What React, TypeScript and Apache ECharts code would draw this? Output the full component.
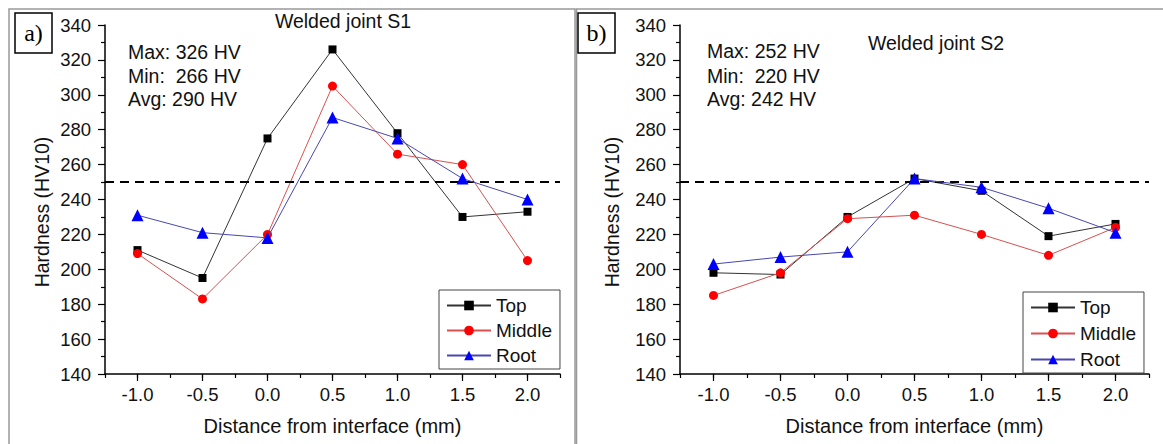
import React, { useEffect, useRef } from "react";
import * as echarts from "echarts";

const distances = [-1.0, -0.5, 0.0, 0.5, 1.0, 1.5, 2.0];
const s1Top = [211, 195, 275, 326, 278, 230, 233];
const s1Middle = [209, 183, 220, 305, 266, 260, 205];
const s1Root = [231, 221, 218, 287, 275, 252, 240];
const s2Top = [198, 197, 230, 252, 245, 219, 226];
const s2Middle = [185, 198, 229, 231, 220, 208, 224];
const s2Root = [203, 207, 210, 252, 247, 235, 221];
const seriesNames = ["Top", "Middle", "Root"];
const titles = ["Welded joint S1", "Welded joint S2"];
const panelLabels = ["a)", "b)"];
const stats1 = ["Max: 326 HV", "Min:  266 HV", "Avg: 290 HV"];
const stats2 = ["Max: 252 HV", "Min:  220 HV", "Avg: 242 HV"];
const yAxisTitle = "Hardness (HV10)";
const xAxisTitle = "Distance from interface (mm)";
const limitValue = 250;

const FONT = "'Liberation Sans', Arial, sans-serif";
const SERIF = "'Liberation Serif', 'Times New Roman', serif";
const TXT = "#111";
const FS = 19;
const TICK_FS = 18.5;

export default function App() {
  const ref = useRef<HTMLDivElement>(null);
  useEffect(() => {
    if (!ref.current) return;
    const chart = echarts.init(ref.current, undefined, { renderer: "svg" });

    const grids = [
      { left: 105, top: 25, width: 455, height: 349 },
      { left: 680, top: 25, width: 469, height: 349 },
      { left: 137.5, top: 25, width: 390, height: 349 },
      { left: 713.5, top: 25, width: 402, height: 349 },
    ];

    const yAxisMain = (gi: number) => ({
      type: "value",
      gridIndex: gi,
      min: 140,
      max: 340,
      interval: 20,
      axisLine: { show: true, onZero: false, lineStyle: { color: "#000", width: 1.5 } },
      axisTick: { show: true, length: 7, lineStyle: { color: "#000", width: 1.2 } },
      minorTick: { show: true, splitNumber: 2, length: 4, lineStyle: { color: "#000", width: 1.2 } },
      axisLabel: { fontSize: TICK_FS, color: TXT, fontFamily: FONT, margin: 14 },
      splitLine: { show: false },
      minorSplitLine: { show: false },
    });

    const xAxisMain = (gi: number) => ({
      type: "value",
      gridIndex: gi,
      min: -1.25,
      max: 2.25,
      interval: 0.25,
      name: xAxisTitle,
      nameLocation: "middle",
      nameGap: 42,
      nameTextStyle: { fontSize: 20, color: TXT, fontFamily: FONT },
      axisLine: { show: true, onZero: false, lineStyle: { color: "#000", width: 1.5 } },
      axisTick: { show: true, length: 4, lineStyle: { color: "#000", width: 1.2 } },
      axisLabel: { show: false },
      splitLine: { show: false },
    });

    const xAxisMajor = (gi: number) => ({
      type: "value",
      gridIndex: gi,
      min: -1,
      max: 2,
      interval: 0.5,
      axisLine: { show: false, onZero: false },
      axisTick: { show: true, length: 7, lineStyle: { color: "#000", width: 1.2 } },
      axisLabel: {
        fontSize: TICK_FS,
        color: TXT,
        fontFamily: FONT,
        margin: 11,
        formatter: (v: number) => v.toFixed(1),
      },
      splitLine: { show: false },
    });

    const yAxisHidden = (gi: number) => ({
      type: "value",
      gridIndex: gi,
      show: false,
      min: 140,
      max: 340,
      axisLine: { show: false, onZero: false },
      splitLine: { show: false },
    });

    const mk = (vals: number[]) => distances.map((d, i) => [d, vals[i]]);

    const styles = [
      { symbol: "rect", symbolSize: 8, line: "#333", fill: "#000" },
      { symbol: "circle", symbolSize: 9, line: "#d85050", fill: "#ff0000" },
      { symbol: "triangle", symbolSize: 12, line: "#4848b0", fill: "#0000ff" },
    ];

    const makeSeries = (panel: number, sets: number[][]) =>
      sets.map((vals, k) => ({
        type: "line",
        name: seriesNames[k],
        xAxisIndex: panel,
        yAxisIndex: panel,
        data: mk(vals),
        symbol: styles[k].symbol,
        symbolSize: styles[k].symbolSize,
        showSymbol: true,
        lineStyle: { color: styles[k].line, width: 1 },
        itemStyle: { color: styles[k].fill },
        z: 3 + k,
        markLine:
          k === 0
            ? {
                silent: true,
                symbol: ["none", "none"],
                label: { show: false },
                lineStyle: { color: "#000", type: [9, 6], width: 2 },
                data: [{ yAxis: limitValue }],
              }
            : undefined,
      }));

    const legend = (left: number, top: number, gap: number) => ({
      orient: "vertical",
      left,
      top,
      data: seriesNames,
      itemWidth: 44,
      itemHeight: 12,
      itemGap: gap,
      padding: [6, 8, 4, 7],
      borderColor: "#444",
      borderWidth: 1,
      textStyle: { fontSize: FS, color: TXT, fontFamily: FONT },
    });

    const statText = (x: number, lines: string[], ys: number[]) =>
      lines.map((t, i) => ({
        type: "text",
        x,
        y: ys[i],
        style: {
          text: t,
          fontSize: 19.5,
          fill: TXT,
          fontFamily: FONT,
          verticalAlign: "middle",
        },
      }));

    const centered = (text: string, x: number, y: number, size: number, family: string, rotation = 0) => ({
      type: "text",
      x,
      y,
      rotation,
      style: {
        text,
        fontSize: size,
        fontFamily: family,
        fill: family === SERIF ? "#000" : TXT,
        align: "center",
        verticalAlign: "middle",
      },
    });

    const option: any = {
      animation: false,
      backgroundColor: "#fff",
      grid: grids,
      xAxis: [xAxisMain(0), xAxisMain(1), xAxisMajor(2), xAxisMajor(3)],
      yAxis: [yAxisMain(0), yAxisMain(1), yAxisHidden(2), yAxisHidden(3)],
      legend: [legend(439, 290, 6), legend(1023, 292, 7)],
      series: [
        ...makeSeries(0, [s1Top, s1Middle, s1Root]),
        ...makeSeries(1, [s2Top, s2Middle, s2Root]),
      ],
      graphic: [
        {
          type: "rect",
          shape: { x: 9, y: 9, width: 566, height: 460 },
          style: { fill: "none", stroke: "#999", lineWidth: 1.5 },
          silent: true,
          z: -1,
        },
        {
          type: "rect",
          shape: { x: 576.5, y: 9, width: 600, height: 460 },
          style: { fill: "none", stroke: "#999", lineWidth: 1.5 },
          silent: true,
          z: -1,
        },
        {
          type: "rect",
          shape: { x: 15, y: 13, width: 37, height: 40 },
          style: { fill: "#fff", stroke: "#000", lineWidth: 1.5 },
        },
        {
          type: "rect",
          shape: { x: 578, y: 13, width: 37, height: 40 },
          style: { fill: "#fff", stroke: "#000", lineWidth: 1.5 },
        },
        centered(panelLabels[0], 33.5, 33, 24, SERIF),
        centered(panelLabels[1], 596.5, 33, 24, SERIF),
        centered(titles[0], 343, 21, 19.5, FONT),
        centered(titles[1], 936, 43, 19.5, FONT),
        centered(yAxisTitle, 42, 212, 19.5, FONT, Math.PI / 2),
        centered(yAxisTitle, 612, 212, 19.5, FONT, Math.PI / 2),
        ...statText(128, stats1, [52, 76, 99]),
        ...statText(707, stats2, [51, 76, 99]),
      ],
    };

    chart.setOption(option);
    return () => chart.dispose();
  }, []);

  return (
    <div
      ref={ref}
      style={{ position: "absolute", left: 0, top: 0, width: 1163, height: 444 }}
    />
  );
}
